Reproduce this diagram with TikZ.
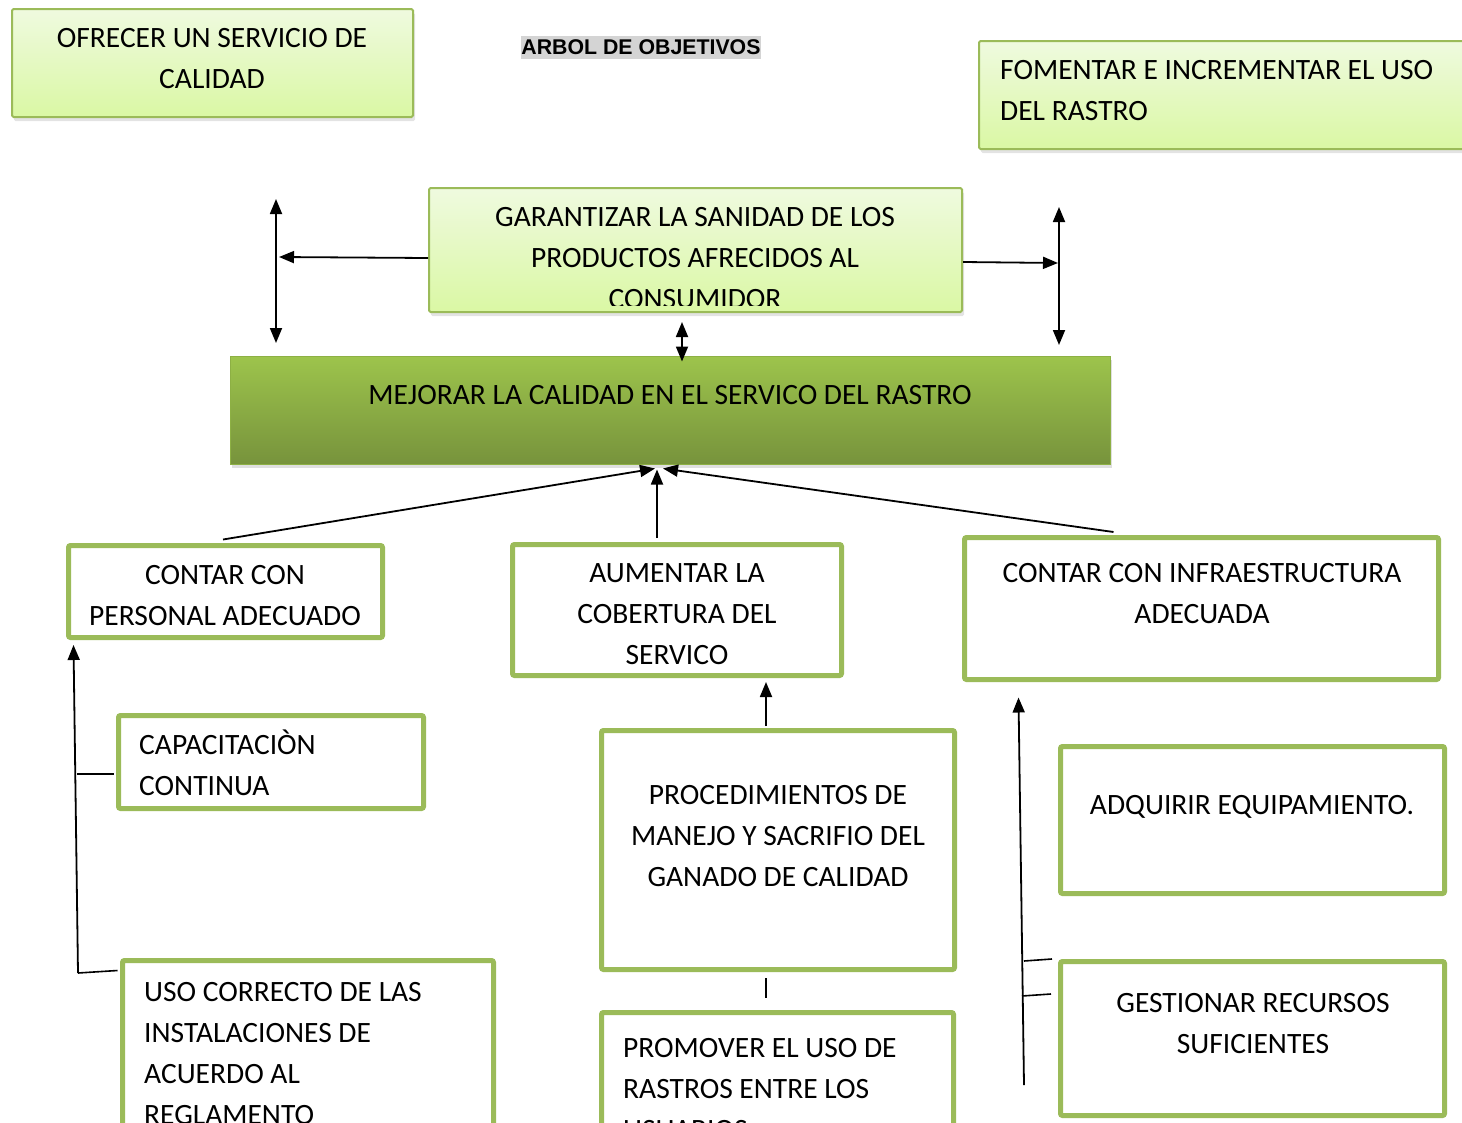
\documentclass[tikz,border=0pt]{standalone}
\usepackage{fontspec}
\setmainfont{Carlito}
\newfontfamily\titlefont{Liberation Sans}
\usetikzlibrary{arrows.meta,shadows,calc}
\definecolor{gborder}{HTML}{9BBB59}
\definecolor{lgtop}{HTML}{EFFADF}
\definecolor{lgbot}{HTML}{DAF8A4}
\definecolor{dgtop}{HTML}{9DC44C}
\definecolor{dgbot}{HTML}{77933C}
\definecolor{hlgray}{HTML}{D4D4D4}
\tikzset{
  lbox/.style={draw=gborder, line width=2pt, rounded corners=1.5pt, top color=lgtop, bottom color=lgbot,
    drop shadow={shadow xshift=2pt, shadow yshift=-4pt, opacity=0.22}},
  dbox/.style={draw=dgtop!90!black, line width=1pt, top color=dgtop, bottom color=dgbot,
    drop shadow={shadow xshift=2pt, shadow yshift=-4pt, opacity=0.25}},
  wbox/.style={draw=gborder, line width=5pt, rounded corners=2pt, fill=white},
  txt/.style={inner sep=0pt, anchor=north, align=center, font=\fontsize{29.5}{41}\selectfont},
  ltxt/.style={inner sep=0pt, anchor=north west, align=left, font=\fontsize{29.5}{41}\selectfont},
  conn/.style={line width=1.8pt, -{Triangle[length=15pt,width=12pt]}},
  dconn/.style={line width=1.8pt, {Triangle[length=15pt,width=12pt]}-{Triangle[length=15pt,width=12pt]}},
  plain/.style={line width=1.6pt},
}
\newcommand{\fs}{\rule{0pt}{26pt}}
\begin{document}
\begin{tikzpicture}[x=1pt,y=-1pt]
\useasboundingbox (0,0) rectangle (1462,1122);

% top boxes
\node[lbox, minimum width=401pt, minimum height=108pt] (ofrecer) at (212.5,63) {};
\node[txt] (tofrecer) at (212,21.5) {\fs OFRECER UN SERVICIO DE\\CALIDAD};

\node[lbox, minimum width=496pt, minimum height=108pt] (fomentar) at (1227,95) {};
\node[ltxt] (tfomentar) at (1000,53.5) {\fs FOMENTAR E INCREMENTAR EL USO\\DEL RASTRO};

% title
\node[fill=hlgray, inner sep=0pt, minimum width=240pt, minimum height=23pt,
  font=\titlefont\bfseries\fontsize{21.3}{24}\selectfont] (title) at (641,47.5) {ARBOL DE OBJETIVOS};

% garantizar
\node[lbox, minimum width=533pt, minimum height=124pt] (garant) at (695.5,250) {};
\begin{scope}
\clip (429,189) rectangle (962,305);
\node[txt] (tgarant) at (695,200.5) {\fs GARANTIZAR LA SANIDAD DE LOS\\PRODUCTOS AFRECIDOS AL\\CONSUMIDOR};
\end{scope}

% mejorar
\node[dbox, minimum width=880pt, minimum height=108pt] (mejorar) at (670,410) {};
\node[txt] (tmejorar) at (670,378.5) {\fs MEJORAR LA CALIDAD EN EL SERVICO DEL RASTRO};

% second level
\node[wbox, minimum width=314pt, minimum height=92pt] (contar) at (225.5,591.5) {};
\node[txt] (tcontar) at (225,558.5) {\fs CONTAR CON\\PERSONAL ADECUADO};

\node[wbox, minimum width=329pt, minimum height=131pt] (aum) at (677,610) {};
\node[txt] (taum) at (677,556.5) {\fs AUMENTAR LA\\COBERTURA DEL\\SERVICO};

\node[wbox, minimum width=474pt, minimum height=142pt] (infra) at (1201.5,608.5) {};
\node[txt] (tinfra) at (1202,556.5) {\fs CONTAR CON INFRAESTRUCTURA\\ADECUADA};

% third level
\node[wbox, minimum width=305pt, minimum height=93pt] (capac) at (271,762) {};
\node[ltxt] (tcapac) at (139,728.5) {\fs CAPACITACIÒN\\CONTINUA};

\node[wbox, minimum width=371pt, minimum height=240pt] (uso) at (308,1080.5) {};
\node[ltxt] (tuso) at (144,975.5) {\fs USO CORRECTO DE LAS\\INSTALACIONES DE\\ACUERDO AL\\REGLAMENTO};

\node[wbox, minimum width=353pt, minimum height=239pt] (proc) at (778,850) {};
\node[txt] (tproc) at (778,778.5) {\fs PROCEDIMIENTOS DE\\MANEJO Y SACRIFIO DEL\\GANADO DE CALIDAD};

\node[wbox, minimum width=352pt, minimum height=188pt] (promo) at (777.5,1106.5) {};
\node[ltxt] (tpromo) at (623,1031.5) {\fs PROMOVER EL USO DE\\RASTROS ENTRE LOS\\USUARIOS};

\node[wbox, minimum width=384pt, minimum height=147pt] (adq) at (1252.5,820) {};
\node[txt] (tadq) at (1252,788.5) {\fs ADQUIRIR EQUIPAMIENTO.};

\node[wbox, minimum width=384pt, minimum height=154pt] (gest) at (1252.5,1038.5) {};
\node[txt] (tgest) at (1253,986.5) {\fs GESTIONAR RECURSOS\\SUFICIENTES};

% top connectors
\coordinate (lt) at (276,199);
\coordinate (lb) at (276,343);
\draw[dconn] (lt) -- (lb);
\draw[conn] ($(garant.west)+(0,8)$) -- (279,257);

\coordinate (rt) at (1059,207);
\coordinate (rb) at (1059,345);
\draw[dconn] (rt) -- (rb);
\draw[conn] ($(garant.east)+(0,12)$) -- (1058,263);

\draw[dconn] ($(garant.south)+(-13.5,9)$) -- ($(mejorar.north)+(12,6)$);

% into mejorar
\draw[conn] ($(contar.north)+(-2.5,-3.5)$) -- ($(mejorar.south)+(-15,4)$);
\draw[conn] ($(aum.north)+(-20,-4)$) -- ($(mejorar.south)+(-13,5)$);
\draw[conn] ($(infra.north)+(-88,-3)$) -- ($(mejorar.south)+(-7,4)$);

% middle column
\draw[conn] ($(proc.north)+(-12,-2)$) -- ($(aum.south)+(89,4)$);
\draw[plain] ($(proc.south)+(-12,6)$) -- ($(promo.north)+(-11.5,-12)$);

% left trunk
\coordinate (ltrunk) at (78,973);
\coordinate (lbr) at (77,774);
\draw[conn] (ltrunk) -- ($(contar.south west)+(7.5,5)$);
\draw[plain] ($(capac.west)+(-2.5,12)$) -- (lbr);
\draw[plain] ($(uso.north west)+(-2.5,12.5)$) -- (ltrunk);

% right trunk
\coordinate (rtrunk) at (1024,1085);
\coordinate (rbr1) at (1024,961);
\coordinate (rbr2) at (1022,996);
\draw[conn] (rtrunk) -- ($(infra.south west)+(56.5,15.5)$);
\draw[plain] ($(gest.north west)+(-6,0)$) -- (rbr1);
\draw[plain] ($(gest.north west)+(-7,35)$) -- (rbr2);
\end{tikzpicture}
\end{document}
